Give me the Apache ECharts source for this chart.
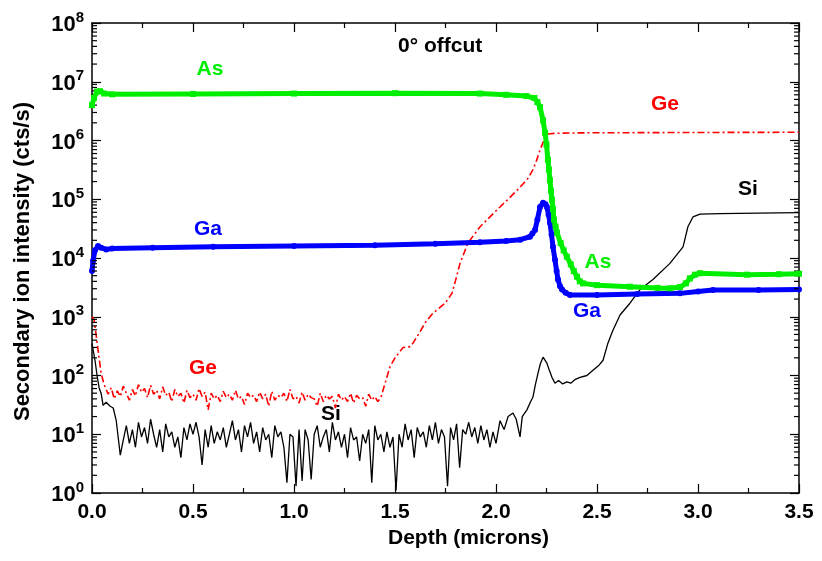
<!DOCTYPE html>
<html><head><meta charset="utf-8">
<script src="https://cdn.jsdelivr.net/npm/echarts@6/dist/echarts.min.js"></script>
<style>html,body{margin:0;padding:0;background:#fff}#c{width:822px;height:561px}</style>
</head><body><div id="c"></div>
<script>
// ---- data (depth in microns, intensity in cts/s) ----
const xTickValues = [0, 0.5, 1.0, 1.5, 2.0, 2.5, 3.0, 3.5];
const yTickExponents = [0, 1, 2, 3, 4, 5, 6, 7, 8];
const minorMultipliers = [2, 3, 4, 5, 6, 7, 8, 9];

const asData = [[0.0,4.0e6],[0.01,5.3e6],[0.025,6.8e6],[0.04,6.9e6],[0.06,6.3e6],[0.1,6.1e6],[0.5,6.2e6],[1.0,6.3e6],[1.5,6.4e6],[1.92,6.3e6],[2.05,6.0e6],[2.15,5.7e6],[2.19,5.3e6],[2.205,4.5e6],[2.218,3.7e6],[2.233,2.2e6],[2.243,1.35e6],[2.25,8.5e5],[2.257,4.7e5],[2.262,3.2e5],[2.267,2.1e5],[2.272,1.4e5],[2.277,9.8e4],[2.282,6.8e4],[2.287,4.5e4],[2.295,3.4e4],[2.302,2.7e4],[2.32,1.8e4],[2.335,1.35e4],[2.351,1.05e4],[2.37,7.8e3],[2.385,6.0e3],[2.401,4.8e3],[2.415,4.0e3],[2.431,3.7e3],[2.5,3.45e3],[2.663,3.25e3],[2.8,3.1e3],[2.861,3.05e3],[2.911,3.2e3],[2.94,3.7e3],[2.96,4.5e3],[2.985,5.2e3],[3.01,5.5e3],[3.243,5.2e3],[3.4,5.3e3],[3.5,5.4e3]];

const gaData = [[0.0,6.0e3],[0.005,9.0e3],[0.015,1.35e4],[0.03,1.6e4],[0.045,1.5e4],[0.07,1.4e4],[0.1,1.45e4],[0.3,1.5e4],[0.6,1.55e4],[1.0,1.6e4],[1.4,1.65e4],[1.7,1.75e4],[1.92,1.85e4],[2.05,1.95e4],[2.12,2.05e4],[2.168,2.3e4],[2.18,2.6e4],[2.193,3.0e4],[2.205,4.5e4],[2.218,7.4e4],[2.233,8.7e4],[2.245,8.2e4],[2.252,7.4e4],[2.26,5.5e4],[2.267,4.0e4],[2.275,2.5e4],[2.282,1.55e4],[2.292,9.3e3],[2.3,6.0e3],[2.307,4.3e3],[2.317,3.3e3],[2.327,2.9e3],[2.345,2.55e3],[2.366,2.35e3],[2.5,2.35e3],[2.7,2.45e3],[2.911,2.5e3],[3.0,2.7e3],[3.074,2.85e3],[3.3,2.85e3],[3.5,2.9e3]];

const geHead = [[0.0,1000],[0.01,900],[0.02,500],[0.03,270],[0.045,110],[0.06,70]];
const geNoiseStart = 0.08, geNoiseStep = 0.015;
const geNoise = [48,62,40,55,44,66,50,38,58,45,70,52,60,42,68,48,56,40,64,46,
 52,36,58,44,50,34,56,42,48,38,60,44,52,26,50,40,46,36,54,42,
 48,38,56,40,44,32,50,42,46,36,52,40,48,30,54,38,46,42,50,36,
 58,40,44,34,52,38,48,42,40,30,50,36,46,40,44,28,48,38,44,36,
 50,34,46,40,42,30,48,38,44,36,42];
const geTail = [[1.445,63],[1.475,140],[1.5,200],[1.54,300],[1.574,310],[1.589,355],[1.624,556],[1.65,800],[1.688,1150],[1.748,1700],[1.782,2500],[1.80,4200],[1.822,8100],[1.861,1.8e4],[1.921,3.4e4],[2.005,6.6e4],[2.06,1.0e5],[2.119,1.6e5],[2.16,2.3e5],[2.183,3.2e5],[2.2,4.5e5],[2.218,6.9e5],[2.233,9.3e5],[2.257,1.29e6],[2.3,1.33e6],[2.416,1.35e6],[3.0,1.37e6],[3.5,1.38e6]];

const siHead = [[0.0,350],[0.015,180],[0.025,100],[0.035,62],[0.045,50],[0.055,31],[0.07,35],[0.09,30],[0.105,28],[0.12,17],[0.14,4.4]];
const siNoiseStart = 0.155, siNoiseStep = 0.015;
const siNoise = [8,14,7,12,6,16,9,13,7,18,
 10,6,12,5,15,9,11,6,9,4,
 13,8,15,10,16,9,3,12,6,14,
 7,11,8,13,6,10,17,8,12,5,
 14,9,16,7,11,5,13,8,10,4,
 14,9,11,6,1.5,10,9,1.3,12,1.6,
 12,8,1.7,10,14,6,9,12,5,16,
 8,11,6,10,4,13,8,9,3.5,10,
 7,12,1.5,14,8,10,5,11,6,9,
 1.1,10,6,15,8,12,4,13,9,11,
 6,14,8,16,7,12,9,1.3,13,8,
 15,2.7,12,10,16,9,13,7,14,8,
 12,6,11,7];
const siTail = [[2.02,17],[2.04,12],[2.06,20],[2.084,23],[2.1,18],[2.119,9],[2.13,20],[2.153,26],[2.17,35],[2.183,43],[2.195,70],[2.208,110],[2.22,160],[2.233,205],[2.24,215],[2.252,162],[2.265,120],[2.277,93],[2.292,74],[2.31,82],[2.33,72],[2.351,78],[2.37,74],[2.39,85],[2.416,93],[2.45,100],[2.48,123],[2.51,150],[2.53,182],[2.554,355],[2.579,590],[2.614,1070],[2.663,1700],[2.713,2900],[2.777,4300],[2.861,8100],[2.926,1.55e4],[2.95,3.4e4],[2.975,5.0e4],[3.01,5.6e4],[3.109,5.7e4],[3.3,5.8e4],[3.5,5.9e4]];

// ---- build series arrays ----
const geData = geHead.concat(geNoise.map((v,i)=>[+(geNoiseStart+i*geNoiseStep).toFixed(4), v]), geTail);
const siData = siHead.concat(siNoise.map((v,i)=>[+(siNoiseStart+i*siNoiseStep).toFixed(4), v]), siTail);
const minorTicks = [];
for (let e = 0; e < 8; e++) for (const m of minorMultipliers) minorTicks.push([0, m*Math.pow(10,e)]);

const FONT = '"Liberation Sans", Arial, sans-serif';
const GREEN = '#00ee00', BLUE = '#0000ff', RED = '#ff0000', BLACK = '#000000';

const chart = echarts.init(document.getElementById('c'), null, {renderer:'canvas'});
const axisLine = {show:true, onZero:false, lineStyle:{color:'#000', width:1.5}};
const xBase = {type:'value', min:0, max:3.5, interval:0.5, axisLine, splitLine:{show:false},
  axisTick:{inside:true, length:9, lineStyle:{color:'#000', width:1.2}},
  minorTick:{show:true, splitNumber:2, length:5, lineStyle:{color:'#000', width:1.2}}};
const yBase = {type:'log', logBase:10, min:1, max:1e8, interval:1, axisLine, splitLine:{show:false},
  axisTick:{inside:true, length:9, lineStyle:{color:'#000', width:1.2}}, minorTick:{show:false}};

const labelText = (text, x, y, color) => ({type:'text', x:x, y:y, silent:true, style:{text, fill:color, font:'bold 21px '+FONT, align:'center', verticalAlign:'middle'}});

chart.setOption({
  animation:false,
  backgroundColor:'#fff',
  grid:{left:92, right:23, top:23, bottom:68, containLabel:false},
  xAxis:[
    Object.assign({}, xBase, {position:'bottom', name:'Depth (microns)', nameLocation:'middle', nameGap:32,
      nameTextStyle:{fontFamily:FONT, fontWeight:'bold', fontSize:21, color:'#000', padding:[0,0,0,46]},
      axisLabel:{margin:9, fontFamily:FONT, fontWeight:'bold', fontSize:21, color:'#000', formatter:v=>v.toFixed(1)}}),
    Object.assign({}, xBase, {position:'top', axisLabel:{show:false}})
  ],
  yAxis:[
    Object.assign({}, yBase, {position:'left', name:'Secondary ion intensity (cts/s)', nameLocation:'middle', nameGap:58,
      nameTextStyle:{fontFamily:FONT, fontWeight:'bold', fontSize:22, color:'#000', padding:[0,7,0,0]},
      axisLabel:{margin:8, color:'#000', formatter:v=>'{b|10}{s|'+Math.round(Math.log10(v))+'}',
        rich:{b:{fontFamily:FONT, fontWeight:'bold', fontSize:22, lineHeight:26, verticalAlign:'bottom'},
              s:{fontFamily:FONT, fontWeight:'bold', fontSize:15, lineHeight:15, verticalAlign:'top'}}}}),
    Object.assign({}, yBase, {position:'right', axisLabel:{show:false}})
  ],
  series:[
    {type:'custom', name:'minor', data:minorTicks, silent:true, clip:false, z:5,
      renderItem:function(params, api){
        const pt = api.coord([0, api.value(1)]);
        const cs = params.coordSys;
        return {type:'group', children:[
          {type:'line', shape:{x1:cs.x, y1:pt[1], x2:cs.x+5, y2:pt[1]}, style:{stroke:'#000', lineWidth:1.2}},
          {type:'line', shape:{x1:cs.x+cs.width-5, y1:pt[1], x2:cs.x+cs.width, y2:pt[1]}, style:{stroke:'#000', lineWidth:1.2}}
        ]};
      }},
    {type:'line', name:'Si', data:siData, showSymbol:false, lineStyle:{color:BLACK, width:1.3}, z:2},
    {type:'line', name:'Ge', data:geData, showSymbol:false, lineStyle:{color:RED, width:1.6, type:[7,3,2,3]}, z:3},
    {type:'line', name:'Ga', data:gaData, symbol:'circle', symbolSize:6, showSymbol:true, showAllSymbol:true,
      itemStyle:{color:BLUE, borderWidth:0}, lineStyle:{color:BLUE, width:5}, z:4},
    {type:'line', name:'As', data:asData, symbol:'rect', symbolSize:6, showSymbol:true, showAllSymbol:true,
      itemStyle:{color:GREEN, borderWidth:0}, lineStyle:{color:GREEN, width:5}, z:5}
  ],
  graphic:[
    {type:'text', x:398, y:46, silent:true, style:{text:'0° offcut', fill:'#000', font:'bold 21px '+FONT, align:'left', verticalAlign:'middle'}},
    labelText('As', 210, 69, GREEN),
    labelText('Ga', 208, 229, BLUE),
    labelText('Ge', 665, 104, RED),
    labelText('Si', 748, 189, BLACK),
    labelText('As', 598, 262, GREEN),
    labelText('Ga', 587, 311, BLUE),
    labelText('Ge', 203, 368, RED),
    labelText('Si', 331, 414, BLACK)
  ]
});
</script></body></html>
